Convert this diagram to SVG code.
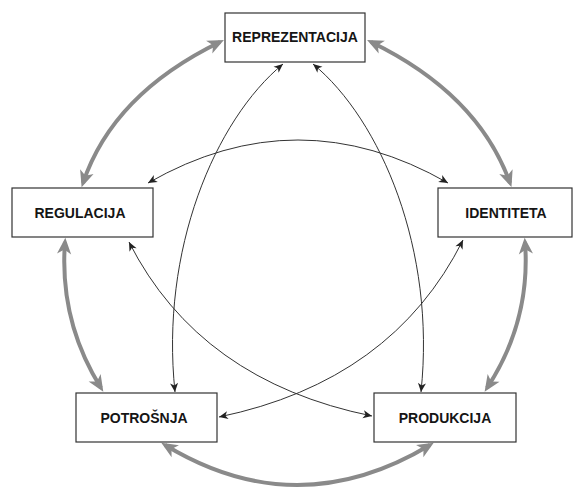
<svg xmlns="http://www.w3.org/2000/svg" width="573" height="488" viewBox="0 0 573 488">
<style>
.box{fill:#fff;stroke:#333;stroke-width:1.2}
.lbl{font-family:"Liberation Sans",Arial,sans-serif;font-weight:bold;font-size:14px;fill:#151515;text-anchor:middle}
.thick{fill:none;stroke:#8a8a8a;stroke-width:4}
.thin{fill:none;stroke:#333;stroke-width:1}
</style>
<defs>
<marker id="ag" markerUnits="userSpaceOnUse" markerWidth="24" markerHeight="20" viewBox="-14 -8 22 16" refX="0" refY="0" orient="auto-start-reverse">
<path d="M4,0 L-11,-6.5 L-7,0 L-11,6.5 Z" fill="#8a8a8a"/>
</marker>
<marker id="ab" markerUnits="userSpaceOnUse" markerWidth="14" markerHeight="10" viewBox="-9 -5 12 10" refX="0" refY="0" orient="auto-start-reverse">
<path d="M0,0 L-9,-4 L-6.5,0 L-9,4 Z" fill="#222"/>
</marker>
</defs>
<rect width="573" height="488" fill="#fff"/>
<g id="connectors">
<path class="thick" d="M220,42 Q113,94 83,183" marker-start="url(#ag)" marker-end="url(#ag)"/>
<path class="thick" d="M371,42 Q478,94 510,183" marker-start="url(#ag)" marker-end="url(#ag)"/>
<path class="thick" d="M65,242 Q59,321 101,388" marker-start="url(#ag)" marker-end="url(#ag)"/>
<path class="thick" d="M525,242 Q531,321 487,388" marker-start="url(#ag)" marker-end="url(#ag)"/>
<path class="thick" d="M165,445 Q297,525 430,445" marker-start="url(#ag)" marker-end="url(#ag)"/>
<path class="thin" d="M283,64 C215,120 160,250 175,392" marker-start="url(#ab)" marker-end="url(#ab)"/>
<path class="thin" d="M313,64 C381,120 436,250 421,392" marker-start="url(#ab)" marker-end="url(#ab)"/>
<path class="thin" d="M148,183 Q298,97 448,183" marker-start="url(#ab)" marker-end="url(#ab)"/>
<path class="thin" d="M129,242 Q199.5,381 372,416" marker-start="url(#ab)" marker-end="url(#ab)"/>
<path class="thin" d="M463,240 Q392.5,381 219,417" marker-start="url(#ab)" marker-end="url(#ab)"/>
</g>
<g id="reprezentacija">
<rect class="box" x="225" y="13" width="140" height="49"/>
<text class="lbl" x="295" y="42">REPREZENTACIJA</text>
</g>
<g id="regulacija">
<rect class="box" x="12" y="188" width="141" height="49"/>
<text class="lbl" x="80" y="218">REGULACIJA</text>
</g>
<g id="identiteta">
<rect class="box" x="438" y="188" width="134" height="49"/>
<text class="lbl" x="506" y="218">IDENTITETA</text>
</g>
<g id="potrosnja">
<rect class="box" x="76" y="393" width="141" height="49"/>
<text class="lbl" x="144" y="423">POTROŠNJA</text>
</g>
<g id="produkcija">
<rect class="box" x="374" y="393" width="142" height="49"/>
<text class="lbl" x="445" y="423">PRODUKCIJA</text>
</g>
</svg>
